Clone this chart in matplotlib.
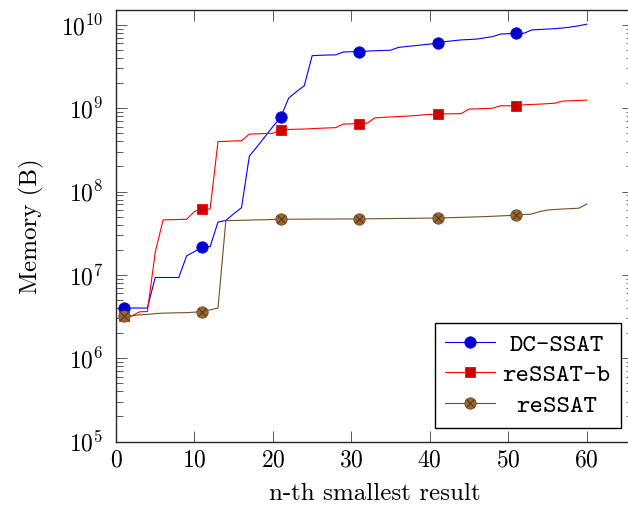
import matplotlib
matplotlib.use("Agg")
import matplotlib.pyplot as plt
from matplotlib.legend_handler import HandlerTuple
from matplotlib.font_manager import FontProperties
from matplotlib.ticker import LogLocator, NullFormatter

plt.rcParams['mathtext.fontset'] = 'cm'
plt.rcParams['axes.formatter.use_mathtext'] = True
plt.rcParams['font.family'] = ['cmr10', 'DejaVu Sans']

# ---- data ----
n = list(range(1, 61))

dc_ssat = [4.0e6, 4.0e6, 4.0e6, 4.0e6, 9.3e6, 9.3e6, 9.3e6, 9.3e6, 1.69e7, 1.9e7,
           2.18e7, 2.18e7, 4.3e7, 4.5e7, 5.4e7, 6.4e7, 2.67e8, 3.47e8, 4.57e8, 6.03e8,
           7.8e8, 1.32e9, 1.58e9, 1.86e9, 4.27e9, 4.32e9, 4.35e9, 4.37e9, 4.74e9, 4.76e9,
           4.79e9, 4.84e9, 4.9e9, 4.93e9, 4.97e9, 5.37e9, 5.5e9, 5.62e9, 5.75e9, 5.89e9,
           6.03e9, 6.31e9, 6.46e9, 6.61e9, 6.68e9, 6.76e9, 7.0e9, 7.24e9, 7.76e9, 7.85e9,
           7.94e9, 7.94e9, 8.71e9, 8.81e9, 8.91e9, 9.02e9, 9.2e9, 9.44e9, 9.77e9, 1.02e10]

ressat_b = [3.2e6, 3.2e6, 3.6e6, 3.63e6, 1.86e7, 4.57e7, 4.6e7, 4.62e7, 4.65e7, 5.75e7,
            6.17e7, 6.17e7, 3.98e8, 4.0e8, 4.05e8, 4.07e8, 4.9e8, 4.93e8, 4.97e8, 5.01e8,
            5.5e8, 5.56e8, 5.6e8, 5.62e8, 5.69e8, 5.75e8, 5.8e8, 5.85e8, 6.46e8, 6.49e8,
            6.53e8, 6.61e8, 7.66e8, 7.76e8, 7.85e8, 7.94e8, 8.04e8, 8.13e8, 8.32e8, 8.41e8,
            8.51e8, 8.55e8, 8.59e8, 8.61e8, 9.77e8, 9.84e8, 9.91e8, 1.0e9, 1.07e9, 1.07e9,
            1.07e9, 1.1e9, 1.11e9, 1.12e9, 1.135e9, 1.15e9, 1.22e9, 1.23e9, 1.24e9, 1.25e9]

ressat = [3.2e6, 3.24e6, 3.31e6, 3.35e6, 3.43e6, 3.47e6, 3.49e6, 3.51e6, 3.52e6, 3.57e6,
          3.63e6, 3.8e6, 4.0e6, 4.47e7, 4.49e7, 4.52e7, 4.54e7, 4.57e7, 4.59e7, 4.62e7,
          4.65e7, 4.65e7, 4.66e7, 4.66e7, 4.67e7, 4.67e7, 4.68e7, 4.68e7, 4.69e7, 4.69e7,
          4.7e7, 4.71e7, 4.72e7, 4.73e7, 4.74e7, 4.75e7, 4.76e7, 4.77e7, 4.79e7, 4.8e7,
          4.82e7, 4.84e7, 4.87e7, 4.9e7, 4.93e7, 4.97e7, 5.0e7, 5.05e7, 5.1e7, 5.15e7,
          5.25e7, 5.3e7, 5.37e7, 5.75e7, 6.0e7, 6.1e7, 6.17e7, 6.24e7, 6.31e7, 7.08e7]

labels = ['DC-SSAT', 'reSSAT-b', 'reSSAT']
xticks = [0, 10, 20, 30, 40, 50, 60]

# ---- styles ----
W, H = 628, 512
fig = plt.figure(figsize=(W / 100, H / 100), dpi=100)
ax = fig.add_axes([116 / W, (H - 441.5) / H, (633 - 116) / W, (441.5 - 10) / H])

lw = 0.8
ms = 8.2
blue_line, blue_fill = (0, 0, 1), (0, 0, 0.8)
red_line, red_fill = (1, 0, 0), (0.8, 0, 0)
brown_line, brown_fill = (0.45, 0.3, 0.15), (0.6, 0.4, 0.2)

h1, = ax.plot(n, dc_ssat, color=blue_line, lw=lw, marker='o', ms=ms,
              mfc=blue_fill, mec=blue_line, mew=0.6, markevery=10)
h2, = ax.plot(n, ressat_b, color=red_line, lw=lw, marker='s', ms=ms * 0.95,
              mfc=red_fill, mec=red_line, mew=0.6, markevery=10)
h3, = ax.plot(n, ressat, color=brown_line, lw=lw, marker='o', ms=ms,
              mfc=brown_fill, mec=brown_line, mew=0.6, markevery=10)
h3x, = ax.plot(n[::10], ressat[::10], ls='none', marker='x', ms=ms * 0.68,
               mec=(0.35, 0.22, 0.1), mew=0.8)

ax.set_yscale('log')
ax.set_xlim(0, 65.9)
ax.set_ylim(1e5, 1.51e10)
ax.set_xticks(xticks)
ax.yaxis.set_major_locator(LogLocator(base=10, numticks=20))
ax.yaxis.set_minor_locator(LogLocator(base=10, subs=range(2, 10), numticks=20))
ax.yaxis.set_minor_formatter(NullFormatter())

ax.tick_params(which='both', direction='in', top=True, right=True,
               color=(0.35, 0.35, 0.35), width=0.7)
ax.tick_params(which='major', length=7.7, labelsize=17)
ax.tick_params(which='minor', length=4.8)
ax.tick_params(axis='y', pad=9)
ax.tick_params(axis='x', pad=6)
for s in ax.spines.values():
    s.set_linewidth(1.0)
    s.set_color((0.15, 0.15, 0.15))

ax.set_xlabel('n-th smallest result', fontsize=18, labelpad=8)
ax.set_ylabel('Memory (B)', fontsize=18, labelpad=12)

leg = ax.legend([h1, h2, (h3, h3x)], labels,
                handler_map={tuple: HandlerTuple(ndivide=1)},
                loc='lower right', bbox_to_anchor=(621 / W, (H - 428) / H),
                bbox_transform=fig.transFigure, borderaxespad=0,
                prop=FontProperties(family='cmtt10', size=18.5),
                fancybox=False, framealpha=1, edgecolor='black',
                handlelength=1.95, handletextpad=0.3, labelspacing=0.25,
                borderpad=0.4)
leg.get_frame().set_linewidth(1.0)

# centre legend texts like pgfplots
fig.canvas.draw()
r = fig.canvas.get_renderer()
texts = leg.get_texts()
widths = [t.get_window_extent(r).width for t in texts]
mw = max(widths)
for t, w in zip(texts, widths):
    t.set_x((mw - w) / 2)

fig.savefig('out.png', dpi=100)
